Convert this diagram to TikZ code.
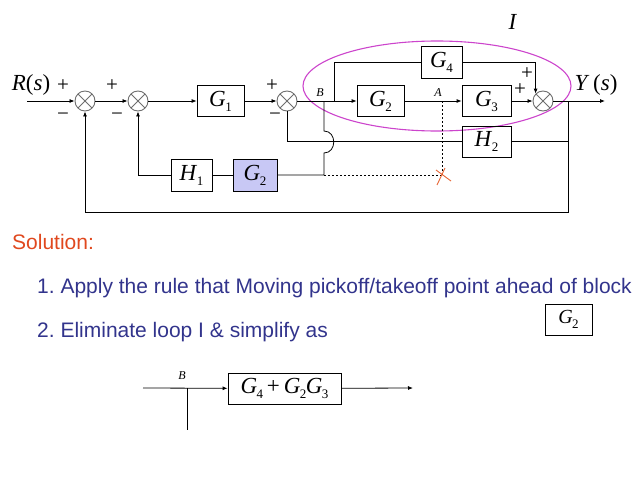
\documentclass[tikz,border=0pt]{standalone}
\usepackage{fontspec}
\setmainfont{Liberation Serif}
\newfontfamily\sansf{Liberation Sans}
\usetikzlibrary{arrows.meta}
\definecolor{bluefill}{RGB}{200,200,245}
\definecolor{solcol}{RGB}{224,72,30}
\definecolor{txtcol}{RGB}{50,52,140}
\definecolor{ellcol}{RGB}{204,68,204}
\definecolor{xcol}{RGB}{230,100,50}
\definecolor{sumcol}{RGB}{110,110,110}
\newcommand\Gs[2]{\textit{#1}\kern-0.5pt\raisebox{-5pt}{\fontsize{13}{13}\selectfont #2}}
\frenchspacing
\tikzset{
 blk/.style={draw, line width=0.8pt, minimum width=47pt, minimum height=31pt, inner sep=0pt, font=\fontsize{23}{24}\selectfont},
 sumj/.style={circle, draw=sumcol, line width=0.9pt, minimum size=20pt, inner sep=0pt,
   path picture={\draw[sumcol, line width=0.9pt] (path picture bounding box.north west)--(path picture bounding box.south east) (path picture bounding box.north east)--(path picture bounding box.south west);}},
 sig/.style={line width=0.8pt},
 arr/.style={sig, -{Latex[length=5pt,width=4pt]}},
 sgn/.style={font=\fontsize{21}{21}\selectfont, inner sep=0pt},
 lbl/.style={font=\fontsize{23}{24}\selectfont, inner sep=0pt},
 small/.style={font=\fontsize{12}{12}\selectfont\itshape, inner sep=0pt},
 txt/.style={font=\sansf\fontsize{21}{24}\selectfont, text=txtcol, anchor=west, inner sep=0pt},
 dsh/.style={line width=0.7pt, dash pattern=on 2pt off 2pt},
}
\begin{document}
\begin{tikzpicture}[x=1pt,y=-1pt]
\useasboundingbox (0,0) rectangle (638,479);
% ellipse (loop I)
\draw[ellcol, line width=1.1pt] (437,86) ellipse [x radius=134, y radius=45];
\node[lbl] (I) at (513,22) {\textit{I}};
% nodes
\node[sumj] (s1) at (85,101) {};
\node[sumj] (s2) at (138,101) {};
\node[blk] (g1) at (220.5,101) {\Gs{G}{1}};
\node[sumj] (s3) at (287,101) {};
\node[blk] (g2) at (380.5,101) {\Gs{G}{2}};
\node[blk, minimum width=49pt] (g3) at (486.5,101) {\Gs{G}{3}};
\node[blk, minimum width=41pt, minimum height=32pt] (g4) at (441.5,62) {\Gs{G}{4}};
\node[sumj] (s4) at (543,101) {};
\node[blk, minimum width=49pt] (h2) at (486.5,141.5) {\Gs{H}{2}};
\node[blk, minimum width=41pt, minimum height=32pt] (h1) at (191.5,175) {\Gs{H}{1}};
\node[blk, fill=bluefill, minimum width=44pt, minimum height=32pt] (g2b) at (255,175) {\Gs{G}{2}};
% points
\coordinate (in) at (27,101);
\coordinate (B) at (324,101);
\coordinate (Bg) at (334,101);
\coordinate (A) at (442,101);
\coordinate (Y) at (568,101);
\coordinate (out) at (605,101);
\coordinate (Bd) at (324,175);
\coordinate (Ad) at (442,175);
\coordinate (Yh) at (568,141.5);
\coordinate (Yb) at (568,212);
% forward path
\draw[arr] (in) -- (s1);
\draw[arr] (s1) -- (s2);
\draw[arr] (s2) -- (g1);
\draw[arr] (g1) -- (s3);
\draw[arr] (s3) -- (g2);
\draw[arr] (g2) -- (g3);
\draw[arr] (g3) -- (s4);
\draw[arr] (s4) -- (out);
% G4 branch
\draw[sig] (Bg) |- (g4);
\draw[arr] (g4.east) -| (s4.north west);
% H2 loop
\draw[sig] (Y) -- (Yh) -- (h2);
\draw[sig] (h2) -| (s3.south);
% outer loop
\draw[arr] (Yh) -- (Yb) -| (s1.south);
% inner loop via B
\draw[sig] (B) -- ++(0,30) .. controls +(13,0) and +(13,0) .. ++(0,22) -- (Bd) -- (g2b);
\draw[sig] (g2b) -- (h1);
\draw[arr] (h1) -| (s2.south);
% dashed old pickoff
\draw[dsh] (Bd) -- (Ad);
\draw[dsh] (A) -- (Ad);
\draw[xcol, line width=0.9pt] (Ad) +(-6,-5) -- +(9,6) (Ad) +(-5,10) -- +(3,-7);
% signs and labels
\node[lbl] (Rs) at (31,85) {\textit{R}(\textit{s})};
\node[sgn] (p1) at (63,86) {+};
\node[sgn] (m1) at (63,117) {−};
\node[sgn] (p2) at (112,86) {+};
\node[sgn] (m2) at (117,117) {−};
\node[sgn] (p3) at (272,86) {+};
\node[sgn] (m3) at (275,117) {−};
\node[sgn] (p4) at (527,74) {+};
\node[sgn] (p5) at (520,90) {+};
\node[small] (Bl) at (320,93) {B};
\node[small] (Al) at (438,93) {A};
\node[lbl] (Ys) at (596,85) {\textit{Y}\,(\textit{s})};
% text
\node[txt, text=solcol] (sol) at (12,242) {Solution:};
\node[txt] (t1) at (37,288) {1. Apply the rule that Moving pickoff/takeoff point ahead of block};
\node[txt] (t2) at (37,332) {2. Eliminate loop I \& simplify as};
\node[blk, minimum width=47pt, minimum height=31pt, font=\fontsize{20}{22}\selectfont] (g2s) at (568.5,319.5) {\Gs{G}{2}};
% simplified block
\coordinate (lin) at (143,388);
\coordinate (lB) at (187,388);
\coordinate (lBb) at (187,430);
\coordinate (lout) at (413,388);
\node[blk, minimum width=113pt, minimum height=31pt] (gs) at (284.5,388.5) {\Gs{G}{4}\,+\,\Gs{G}{2}\kern-0.5pt\Gs{G}{3}};
\draw[arr] (lin) -- (gs);
\draw[arr] (gs) -- (lout);
\draw[sig] (lB) -- (lBb);
\node[small] (Bl2) at (182,376) {B};
\end{tikzpicture}
\end{document}
